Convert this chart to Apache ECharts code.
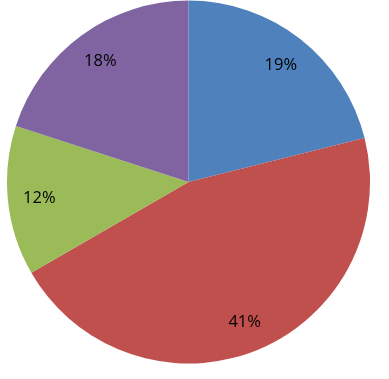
<!DOCTYPE html>
<html>
<head>
<meta charset="utf-8">
<script src="https://cdn.jsdelivr.net/npm/echarts@6/dist/echarts.min.js"></script>
<style>html,body{margin:0;padding:0;background:#fff;}#c{width:389px;height:379px;}</style>
</head>
<body>
<div id="c"></div>
<script>
const categories = ['A', 'B', 'C', 'D'];
const values = [19, 41, 12, 18];
const colors = ['#4F81BD', '#C0504D', '#9BBB59', '#8064A2'];

const data = categories.map((n, i) => ({ name: n, value: values[i], itemStyle: { color: colors[i] } }));
const labelData = categories.map((n, i) => ({ name: n, value: values[i], itemStyle: { color: 'rgba(0,0,0,0)' } }));

const chart = echarts.init(document.getElementById('c'));
chart.setOption({
  animation: false,
  series: [
    {
      type: 'pie',
      center: [188.5, 182],
      radius: [0, 181.5],
      startAngle: 90,
      clockwise: true,
      data: data,
      label: { show: false },
      labelLine: { show: false },
      itemStyle: { borderWidth: 0 },
      emphasis: { disabled: true }
    },
    {
      type: 'pie',
      center: [188.5, 183],
      radius: [112, 182],
      startAngle: 90,
      clockwise: true,
      silent: true,
      data: labelData,
      label: {
        show: true,
        position: 'inside',
        formatter: '{c}%',
        color: '#000',
        fontSize: 16.5,
        fontFamily: 'Open Sans'
      },
      labelLine: { show: false },
      itemStyle: { borderWidth: 0 }
    }
  ]
});
</script>
</body>
</html>
